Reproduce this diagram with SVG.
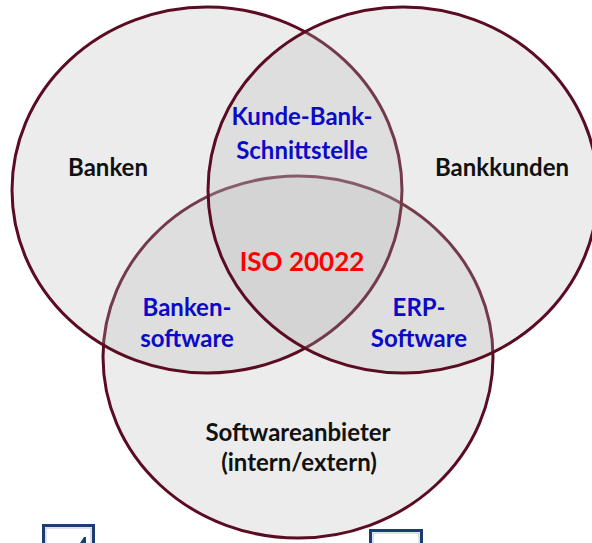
<svg xmlns="http://www.w3.org/2000/svg" width="592" height="543" viewBox="0 0 592 543">
<style>
.c{fill:#b8b8b8;fill-opacity:0.27;stroke:#5a0c22;stroke-width:3}
.t{font-family:"Lato","Liberation Sans",sans-serif;font-weight:bold;font-size:24px;text-anchor:middle}
.k{fill:#111111}
.b{fill:#0a0ac8}
.r{fill:#ff0000;font-size:26px}
.box{fill:#ffffff;stroke:#1a3c6e;stroke-width:3}
.inner{fill:none;stroke:#b8c2d4;stroke-width:1}
</style>
<rect width="592" height="543" fill="#ffffff"/>
<g id="circle-softwareanbieter"><ellipse class="c" cx="298" cy="357" rx="195" ry="181"/></g>
<g id="circle-banken"><ellipse class="c" cx="207" cy="190" rx="195" ry="183"/></g>
<g id="circle-bankkunden"><ellipse class="c" cx="403" cy="190" rx="195" ry="183"/></g>
<g id="labels">
<text class="t k" x="108" y="176">Banken</text>
<text class="t k" x="502" y="176">Bankkunden</text>
<text class="t b" x="302" y="125">Kunde-Bank-</text>
<text class="t b" x="302" y="159">Schnittstelle</text>
<text class="t r" x="302" y="271">ISO 20022</text>
<text class="t b" x="187" y="316">Banken-</text>
<text class="t b" x="187" y="347">software</text>
<text class="t b" x="419" y="316">ERP-</text>
<text class="t b" x="419" y="347">Software</text>
<text class="t k" x="298" y="441">Softwareanbieter</text>
<text class="t k" x="299" y="471">(intern/extern)</text>
</g>
<g id="box-left">
<rect class="box" x="43.5" y="525.5" width="50" height="40"/>
<rect class="inner" x="46" y="528" width="45" height="35"/>
<path d="M80 543 L84 537 L86 537 L86 543 Z" fill="#1a3c6e"/>
</g>
<g id="box-right">
<rect class="box" x="370.5" y="530.5" width="51" height="30"/>
<rect class="inner" x="373" y="533" width="46" height="25"/>
</g>
</svg>
